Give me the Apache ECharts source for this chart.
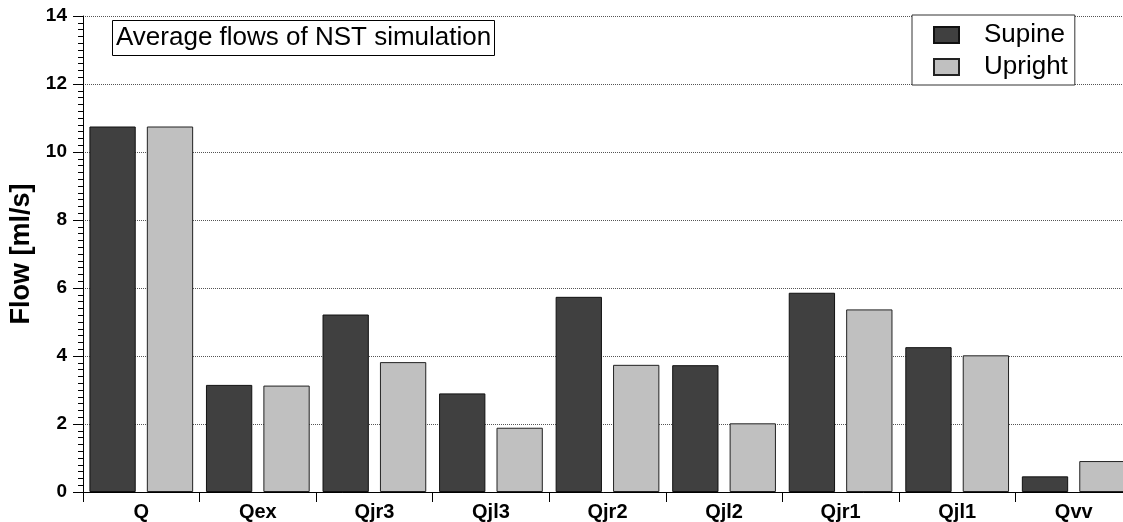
<!DOCTYPE html>
<html>
<head>
<meta charset="utf-8">
<script src="https://cdn.jsdelivr.net/npm/echarts@6/dist/echarts.min.js"></script>
<style>
  html, body { margin: 0; padding: 0; background: #fff; }
  #chart { width: 1123px; height: 522px; }
</style>
</head>
<body>
<div id="chart"></div>
<script>
// Flow locations along the network
const categories = ['Q', 'Qex', 'Qjr3', 'Qjl3', 'Qjr2', 'Qjl2', 'Qjr1', 'Qjl1', 'Qvv'];
// Average flow per location [ml/s]
const supine  = [10.75, 3.15, 5.22, 2.90, 5.74, 3.73, 5.86, 4.26, 0.46];
const upright = [10.75, 3.13, 3.82, 1.89, 3.74, 2.02, 5.37, 4.02, 0.91];
const seriesNames = ['Supine', 'Upright'];
const chartTitle = 'Average flows of NST simulation';
const yAxisTitle = 'Flow [ml/s]';

const FONT = '"Liberation Sans", Arial, sans-serif';
const chart = echarts.init(document.getElementById('chart'), null, { renderer: 'canvas' });

chart.setOption({
  animation: false,
  backgroundColor: '#ffffff',
  textStyle: { fontFamily: FONT },
  title: {
    text: chartTitle,
    left: 112, top: 20,
    padding: [4, 4, 4, 4],
    borderColor: '#000', borderWidth: 1,
    textStyle: { fontFamily: FONT, fontSize: 26, fontWeight: 'normal', color: '#000', lineHeight: 28 }
  },
  legend: {
    orient: 'vertical',
    left: 912, top: 15,
    padding: [7, 7, 5, 21],
    borderColor: '#333', borderWidth: 1,
    backgroundColor: '#fff',
    itemWidth: 25, itemHeight: 16, itemGap: 6,
    icon: 'rect',
    textStyle: { fontFamily: FONT, fontSize: 26, color: '#000', lineHeight: 26, padding: [0, 0, 0, 20] },
    data: seriesNames
  },
  // the last category runs past the right edge of the canvas
  grid: { left: 83, top: 16, bottom: 30, right: -9, containLabel: false, outerBoundsMode: 'none' },
  xAxis: {
    type: 'category',
    data: categories,
    axisLine: { lineStyle: { color: '#000', width: 1 } },
    axisTick: { show: true, length: 10, lineStyle: { color: '#000' } },
    axisLabel: { fontFamily: FONT, fontSize: 20, fontWeight: 'bold', color: '#000', margin: 10 },
    splitLine: { show: false }
  },
  yAxis: {
    type: 'value',
    min: 0, max: 14, interval: 2,
    name: yAxisTitle,
    nameLocation: 'middle',
    nameGap: 46,
    nameTextStyle: { fontFamily: FONT, fontSize: 27, fontWeight: 'bold', color: '#000' },
    axisLine: { show: true, lineStyle: { color: '#000', width: 1 } },
    axisTick: { show: true, length: 10, lineStyle: { color: '#000' } },
    minorTick: { show: true, splitNumber: 10, length: 5, lineStyle: { color: '#000' } },
    axisLabel: { fontFamily: FONT, fontSize: 19, fontWeight: 'bold', color: '#000', margin: 16 },
    splitLine: { show: true, lineStyle: { color: '#555', type: [1, 1], width: 1 } }
  },
  series: [
    {
      name: seriesNames[0], type: 'bar', data: supine,
      barGap: '24%', barCategoryGap: '11%',
      itemStyle: { color: '#404040', borderColor: '#111', borderWidth: 1 }
    },
    {
      name: seriesNames[1], type: 'bar', data: upright,
      barGap: '24%', barCategoryGap: '11%',
      itemStyle: { color: '#c0c0c0', borderColor: '#222', borderWidth: 1 }
    }
  ]
});
</script>
</body>
</html>
